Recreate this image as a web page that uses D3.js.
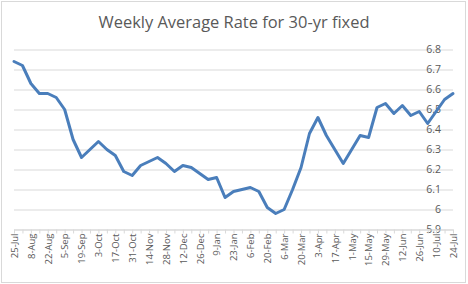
<!DOCTYPE html>
<html>
<head>
<meta charset="utf-8">
<script src="https://cdn.jsdelivr.net/npm/d3@7"></script>
<style>
  body { margin: 0; background: #fff; }
  text { font-family: "Open Sans", sans-serif; fill: #595959; }
</style>
</head>
<body>
<div id="chart"></div>
<script>
// weekly categories, 25-Jul to 24-Jul
var weeks = ["25-Jul", "1-Aug", "8-Aug", "15-Aug", "22-Aug", "29-Aug", "5-Sep", "12-Sep", "19-Sep", "26-Sep",
  "3-Oct", "10-Oct", "17-Oct", "24-Oct", "31-Oct", "7-Nov", "14-Nov", "21-Nov", "28-Nov", "5-Dec",
  "12-Dec", "19-Dec", "26-Dec", "2-Jan", "9-Jan", "16-Jan", "23-Jan", "30-Jan", "6-Feb", "13-Feb",
  "20-Feb", "27-Feb", "6-Mar", "13-Mar", "20-Mar", "27-Mar", "3-Apr", "10-Apr", "17-Apr", "24-Apr",
  "1-May", "8-May", "15-May", "22-May", "29-May", "5-Jun", "12-Jun", "19-Jun", "26-Jun", "3-Jul",
  "10-Jul", "17-Jul", "24-Jul"];

var rates = [6.74, 6.72, 6.63, 6.58, 6.58, 6.56, 6.50, 6.35, 6.26, 6.30,
  6.34, 6.30, 6.27, 6.19, 6.17, 6.22, 6.24, 6.26, 6.23, 6.19,
  6.22, 6.21, 6.18, 6.15, 6.16, 6.06, 6.09, 6.10, 6.11, 6.09,
  6.01, 5.98, 6.00, 6.10, 6.21, 6.38, 6.46, 6.37, 6.30, 6.23,
  6.30, 6.37, 6.36, 6.51, 6.53, 6.48, 6.52, 6.47, 6.49, 6.43,
  6.49, 6.55, 6.58];

// every other week gets a label
var tickLabels = weeks.filter(function(d, i) { return i % 2 === 0; });

var yTicks = [5.9, 6, 6.1, 6.2, 6.3, 6.4, 6.5, 6.6, 6.7, 6.8];

var svgWidth = 468;
var svgHeight = 284;

// plot area
var plot = { left: 14, right: 453, top: 49.5, bottom: 229.5 };

var svg = d3.select("#chart")
  .append("svg")
  .attr("width", svgWidth)
  .attr("height", svgHeight);

// chart border
svg.append("rect")
  .attr("x", 1.5).attr("y", 1.5)
  .attr("width", 464).attr("height", 281)
  .attr("fill", "#fff")
  .attr("stroke", "#d9d9d9");

// title
svg.append("text")
  .attr("x", 234)
  .attr("y", 28)
  .attr("text-anchor", "middle")
  .attr("font-size", 17)
  .attr("textLength", 271)
  .attr("lengthAdjust", "spacingAndGlyphs")
  .text("Weekly Average Rate for 30-yr fixed");

var x = d3.scalePoint()
  .domain(weeks)
  .range([plot.left, plot.right]);

var y = d3.scaleLinear()
  .domain([5.9, 6.8])
  .range([plot.bottom, plot.top]);

// gridlines + labels on the right
var yAxis = d3.axisLeft(y)
  .tickValues(yTicks)
  .tickSize(plot.right - plot.left)
  .tickFormat(d3.format("~g"));

var yG = svg.append("g")
  .attr("transform", "translate(" + plot.right + ",0)")
  .call(yAxis);
yG.select(".domain").remove();
yG.selectAll("line").attr("stroke", "#d9d9d9");
yG.selectAll("text")
  .attr("x", -12)
  .attr("dy", "0.3em")
  .attr("font-size", 10.5)
  .attr("font-family", "Open Sans")
  .attr("fill", "#595959");

// category axis
var xAxis = d3.axisBottom(x)
  .tickSizeInner(4)
  .tickSizeOuter(0)
  .tickFormat(function(d) { return tickLabels.indexOf(d) >= 0 ? d : ""; });

var xG = svg.append("g")
  .attr("transform", "translate(0," + plot.bottom + ")")
  .call(xAxis);
xG.select(".domain").attr("stroke", "#d9d9d9");
xG.selectAll("line").attr("stroke", "#d9d9d9");
xG.selectAll("text")
  .attr("transform", "rotate(-90)")
  .attr("text-anchor", "end")
  .attr("x", -4)
  .attr("y", 0)
  .attr("dy", "0.35em")
  .attr("font-size", 9.5)
  .attr("font-family", "Open Sans")
  .attr("fill", "#595959");

// rate line
var line = d3.line()
  .x(function(d, i) { return x(weeks[i]); })
  .y(function(d) { return y(d); });

svg.append("path")
  .datum(rates)
  .attr("d", line)
  .attr("fill", "none")
  .attr("stroke", "#4a7ebb")
  .attr("stroke-width", 3)
  .attr("stroke-linejoin", "round")
  .attr("stroke-linecap", "round");
</script>
</body>
</html>
